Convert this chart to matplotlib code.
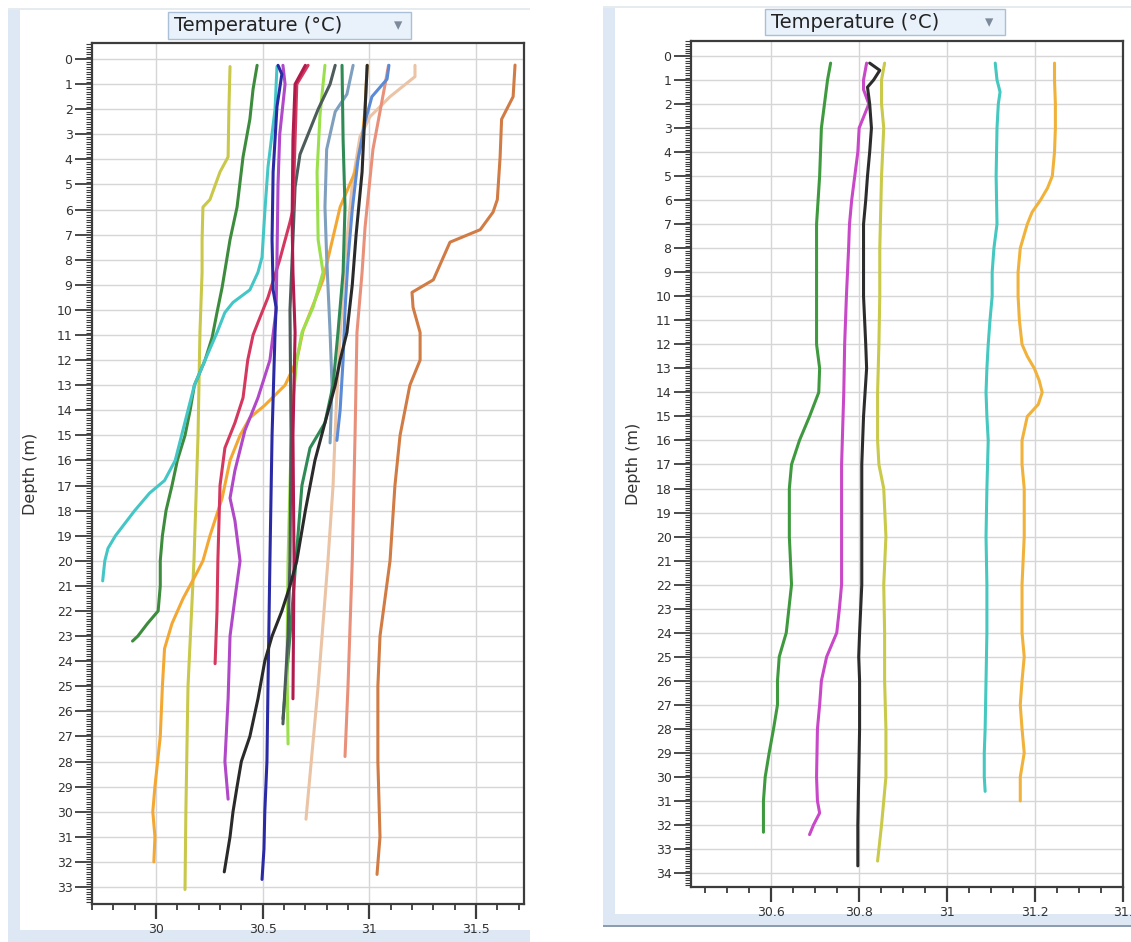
import matplotlib
matplotlib.use("Agg")
import matplotlib.pyplot as plt
from matplotlib.patches import Rectangle
from matplotlib.ticker import MultipleLocator, FixedLocator, FixedFormatter

W, H = 1131, 942

# ---------------- data: left panel (depth m, temperature degC) ----------------
L_yellow_d = [0.3, 1.9, 3.9, 4.5, 5.6, 5.9, 7.2, 8.5, 10.9, 15, 20, 25, 30, 33.1]
L_yellow_t = [30.347, 30.342, 30.338, 30.30, 30.253, 30.22, 30.216, 30.216, 30.206, 30.197, 30.178, 30.15, 30.14, 30.136]

L_dgreen_d = [0.25, 1.2, 2.4, 3.9, 5.9, 7.2, 9.1, 10.1, 11.1, 12, 13, 14, 15, 16, 17, 18, 19, 20, 21, 22, 22.5, 23, 23.2]
L_dgreen_t = [30.474, 30.455, 30.44, 30.408, 30.38, 30.347, 30.31, 30.286, 30.263, 30.23, 30.18, 30.16, 30.136, 30.10, 30.075, 30.047, 30.03, 30.02, 30.02, 30.01, 29.96, 29.915, 29.89]

L_cyan_d = [0.3, 2, 4.3, 6.1, 7.9, 8.5, 9.2, 9.7, 10.1, 10.9, 12, 13, 14, 15, 16, 16.8, 17.3, 18, 18.5, 19, 19.5, 20, 20.8]
L_cyan_t = [30.567, 30.558, 30.525, 30.51, 30.497, 30.478, 30.44, 30.361, 30.323, 30.286, 30.23, 30.18, 30.15, 30.12, 30.09, 30.04, 29.97, 29.90, 29.855, 29.81, 29.775, 29.76, 29.75]

L_navy_d = [0.25, 0.6, 1.9, 4.5, 7.2, 9.2, 9.9, 10.9, 15, 20, 25, 28, 30, 31.5, 32.7]
L_navy_t = [30.572, 30.59, 30.567, 30.549, 30.544, 30.549, 30.563, 30.558, 30.544, 30.534, 30.525, 30.52, 30.51, 30.506, 30.497]

L_purple_d = [0.25, 1, 3, 5, 8, 10, 12, 13.5, 14.8, 16.4, 17.5, 18.4, 20, 21.5, 23, 25.5, 28, 29.5]
L_purple_t = [30.595, 30.605, 30.58, 30.572, 30.567, 30.563, 30.534, 30.478, 30.417, 30.37, 30.347, 30.37, 30.394, 30.37, 30.347, 30.338, 30.323, 30.338]

L_red_d = [0.25, 1, 3.2, 6, 6.5, 8, 9.5, 10.5, 11, 12, 13.5, 14.5, 15.5, 17, 20, 22, 24.1]
L_red_t = [30.713, 30.66, 30.652, 30.642, 30.628, 30.58, 30.525, 30.478, 30.455, 30.43, 30.408, 30.37, 30.323, 30.30, 30.29, 30.286, 30.277]

L_crimson_d = [0.25, 1, 3.2, 6.5, 8.5, 10.9, 15, 20, 25.5]
L_crimson_t = [30.70, 30.652, 30.642, 30.638, 30.642, 30.652, 30.642, 30.647, 30.642]

L_lime_d = [0.25, 2.2, 4.5, 7.2, 8.5, 9.9, 10.9, 12, 14, 17, 20, 24, 27.3]
L_lime_t = [30.792, 30.769, 30.755, 30.76, 30.783, 30.736, 30.684, 30.66, 30.638, 30.628, 30.619, 30.614, 30.619]

L_slate_d = [0.25, 1, 2, 3.8, 5.1, 8, 10, 15, 20, 23, 26.5]
L_slate_t = [30.84, 30.816, 30.76, 30.675, 30.652, 30.638, 30.628, 30.633, 30.628, 30.619, 30.595]

L_teal_d = [0.25, 3.2, 5.9, 8.5, 10.9, 13, 14.5, 15.5, 17, 20, 23, 26.3]
L_teal_t = [30.872, 30.877, 30.886, 30.877, 30.853, 30.83, 30.792, 30.722, 30.684, 30.656, 30.628, 30.595]

L_steel_d = [0.25, 1.4, 2.1, 3.6, 5.9, 7.9, 10.9, 13, 15.3]
L_steel_t = [30.924, 30.895, 30.84, 30.80, 30.792, 30.80, 30.816, 30.825, 30.816]

L_blue_d = [0.25, 0.8, 1.5, 2.5, 4, 6, 8, 10, 12, 14, 15.2]
L_blue_t = [31.092, 31.083, 31.012, 30.98, 30.947, 30.92, 30.90, 30.886, 30.877, 30.863, 30.848]

L_black_d = [0.25, 2, 4.5, 7, 9, 10.9, 12, 13, 14.5, 16, 18, 20, 21, 22, 23, 24, 25.5, 27, 28, 29, 30, 31, 32.4]
L_black_t = [30.99, 30.98, 30.966, 30.938, 30.92, 30.895, 30.863, 30.84, 30.792, 30.745, 30.70, 30.66, 30.628, 30.59, 30.544, 30.51, 30.478, 30.44, 30.40, 30.38, 30.361, 30.347, 30.32]

L_gold_d = [0.25, 2, 3.2, 4.5, 5.9, 8.8, 10.8, 12, 13, 13.8, 14.3, 15, 16, 17.5, 19, 20, 20.5, 21.5, 22.5, 23.5, 25, 27, 29, 30, 31, 32]
L_gold_t = [30.99, 30.98, 30.966, 30.933, 30.863, 30.783, 30.69, 30.66, 30.605, 30.51, 30.44, 30.394, 30.347, 30.31, 30.253, 30.22, 30.19, 30.127, 30.075, 30.04, 30.03, 30.02, 29.995, 29.985, 29.995, 29.99]

L_peach_d = [0.25, 0.7, 1.5, 2.3, 3.1, 5, 8, 11, 14, 17, 20, 25, 30.3]
L_peach_t = [31.214, 31.214, 31.097, 31.003, 30.956, 30.92, 30.886, 30.863, 30.844, 30.83, 30.806, 30.76, 30.703]

L_salmon_d = [0.25, 1, 3.6, 6.7, 8.5, 10.9, 15, 20, 25, 27.8]
L_salmon_t = [31.09, 31.074, 31.017, 30.98, 30.966, 30.942, 30.933, 30.92, 30.90, 30.886]

L_brown_d = [0.24, 1.5, 2.4, 3.9, 5.6, 6.1, 6.8, 7.3, 8.8, 9.3, 9.9, 10.9, 12, 13, 15, 17, 20, 23, 25, 28, 31, 32.5]
L_brown_t = [31.683, 31.674, 31.62, 31.613, 31.60, 31.58, 31.52, 31.378, 31.30, 31.20, 31.205, 31.238, 31.238, 31.19, 31.144, 31.12, 31.097, 31.05, 31.04, 31.04, 31.05, 31.036]

left_series = [
    (L_yellow_d, L_yellow_t, "#c9c84a"),
    (L_dgreen_d, L_dgreen_t, "#3d8c3d"),
    (L_cyan_d, L_cyan_t, "#45c6c6"),
    (L_peach_d, L_peach_t, "#ebc3a5"),
    (L_salmon_d, L_salmon_t, "#e8907a"),
    (L_brown_d, L_brown_t, "#d17b45"),
    (L_gold_d, L_gold_t, "#f4a834"),
    (L_steel_d, L_steel_t, "#7e9fbd"),
    (L_blue_d, L_blue_t, "#5b8bd6"),
    (L_teal_d, L_teal_t, "#2f8a55"),
    (L_lime_d, L_lime_t, "#9be04c"),
    (L_slate_d, L_slate_t, "#4d5b5b"),
    (L_red_d, L_red_t, "#d4385f"),
    (L_crimson_d, L_crimson_t, "#b01a4c"),
    (L_purple_d, L_purple_t, "#b048c8"),
    (L_navy_d, L_navy_t, "#2a2aa5"),
    (L_black_d, L_black_t, "#2a2a2a"),
]

# ---------------- data: right panel ----------------
R_green_d = [0.3, 1, 2, 3, 5, 7, 10, 12, 13, 14, 15, 16, 17, 18, 20, 22, 24, 25, 26, 27, 28, 29, 30, 31, 32.3]
R_green_t = [30.735, 30.728, 30.721, 30.714, 30.71, 30.703, 30.703, 30.703, 30.71, 30.708, 30.687, 30.664, 30.646, 30.641, 30.641, 30.646, 30.634, 30.618, 30.614, 30.614, 30.605, 30.595, 30.586, 30.582, 30.582]

R_magenta_d = [0.3, 1, 1.4, 2, 3, 4, 5, 6, 7, 8, 10, 12, 14, 17, 20, 22, 23, 24, 25, 26, 27, 28, 30, 31, 31.5, 32, 32.4]
R_magenta_t = [30.817, 30.81, 30.81, 30.822, 30.80, 30.797, 30.79, 30.783, 30.778, 30.776, 30.771, 30.767, 30.765, 30.76, 30.76, 30.76, 30.755, 30.749, 30.726, 30.714, 30.71, 30.705, 30.703, 30.705, 30.71, 30.696, 30.687]

R_black_d = [0.3, 0.6, 1.0, 1.3, 2, 3, 4, 5, 6, 7, 8, 10, 12, 13, 15, 17, 20, 22, 24, 25, 26, 28, 30, 32, 33.7]
R_black_t = [30.824, 30.847, 30.833, 30.819, 30.824, 30.828, 30.824, 30.819, 30.815, 30.81, 30.81, 30.81, 30.815, 30.817, 30.81, 30.806, 30.806, 30.806, 30.801, 30.799, 30.801, 30.801, 30.799, 30.797, 30.797]

R_yellow_d = [0.3, 1, 2, 3, 5, 8, 10, 12, 14, 16, 17, 18, 20, 22, 24, 26, 28, 30, 31, 32, 33.5]
R_yellow_t = [30.858, 30.851, 30.851, 30.856, 30.851, 30.847, 30.847, 30.845, 30.842, 30.842, 30.845, 30.856, 30.861, 30.856, 30.858, 30.858, 30.861, 30.861, 30.856, 30.851, 30.842]

R_cyan_d = [0.3, 1, 1.5, 2, 3, 5, 7, 8, 9, 10, 11, 12, 13, 14, 15, 16, 18, 20, 22, 24, 26, 28, 29, 30, 30.6]
R_cyan_t = [31.11, 31.114, 31.121, 31.117, 31.114, 31.112, 31.114, 31.107, 31.103, 31.103, 31.098, 31.094, 31.091, 31.089, 31.091, 31.094, 31.091, 31.089, 31.091, 31.091, 31.089, 31.087, 31.085, 31.085, 31.087]

R_orange_d = [0.3, 1, 2, 3, 4, 5, 5.5, 6, 6.5, 7, 8, 9, 10, 11, 12, 12.5, 13, 13.5, 14, 14.5, 15, 16, 17, 18, 20, 22, 24, 25, 26, 27, 28, 29, 30, 31]
R_orange_t = [31.245, 31.245, 31.247, 31.247, 31.245, 31.24, 31.229, 31.213, 31.194, 31.183, 31.167, 31.162, 31.162, 31.165, 31.171, 31.183, 31.199, 31.21, 31.217, 31.208, 31.183, 31.171, 31.171, 31.176, 31.176, 31.171, 31.171, 31.176, 31.171, 31.167, 31.171, 31.176, 31.167, 31.167]

right_series = [
    (R_green_d, R_green_t, "#3f9a3f"),
    (R_magenta_d, R_magenta_t, "#c848c8"),
    (R_yellow_d, R_yellow_t, "#c9c94a"),
    (R_black_d, R_black_t, "#2c2c2c"),
    (R_cyan_d, R_cyan_t, "#45c8c0"),
    (R_orange_d, R_orange_t, "#f0b23a"),
]

left_xticks = [30, 30.5, 31, 31.5]
left_xlabels = ["30", "30.5", "31", "31.5"]
right_xticks = [30.6, 30.8, 31.0, 31.2, 31.4]
right_xlabels = ["30.6", "30.8", "31", "31.2", "31."]
left_depths = list(range(0, 34))
right_depths = list(range(0, 35))

TITLE = "Temperature (\u00b0C)"
YLABEL = "Depth (m)"

# ---------------- figure ----------------
fig = plt.figure(figsize=(W / 100, H / 100), dpi=100)
fig.patch.set_facecolor("white")


def px_rect(x0, y0, x1, y1, **kw):
    r = Rectangle((x0 / W, 1 - y1 / H), (x1 - x0) / W, (y1 - y0) / H,
                  transform=fig.transFigure, **kw)
    fig.add_artist(r)
    return r


# panel frames (light blue window chrome)
frame_c = "#dde8f4"
px_rect(8, 10, 20, 942, facecolor=frame_c, edgecolor="none", zorder=0)
px_rect(8, 930, 530, 942, facecolor=frame_c, edgecolor="none", zorder=0)
px_rect(8, 8, 530, 9.5, facecolor="#e6ebf0", edgecolor="none", zorder=0)
px_rect(603, 8, 615, 926, facecolor=frame_c, edgecolor="none", zorder=0)
px_rect(603, 914, 1131, 925, facecolor=frame_c, edgecolor="none", zorder=0)
px_rect(603, 925, 1131, 927, facecolor="#8e9cb0", edgecolor="none", zorder=0)
px_rect(603, 6, 1131, 7.5, facecolor="#e6ebf0", edgecolor="none", zorder=0)


def header(x0, y0, x1, y1, tx, ax_):
    px_rect(x0, y0, x1, y1, facecolor="#e9f1fb", edgecolor="#a9c0d8", lw=1.0, zorder=1)
    fig.text(tx / W, 1 - (y0 + y1) / 2 / H, TITLE, ha="left", va="center",
             fontsize=14, color="#222222", zorder=2)
    fig.text(ax_ / W, 1 - (y0 + y1) / 2 / H, "\u25be", ha="center", va="center",
             fontsize=12, color="#7c8a9a", zorder=2)


header(168, 12, 411, 39, 174, 398)
header(765, 9, 1005, 35, 771, 989)


def style_axes(ax, xlim, ylim, xticks, xlabels, xminor, depths, ylabel_x):
    ax.set_xlim(*xlim)
    ax.set_ylim(*ylim)
    ax.xaxis.set_major_locator(FixedLocator(xticks))
    ax.xaxis.set_major_formatter(FixedFormatter(xlabels))
    ax.xaxis.set_minor_locator(MultipleLocator(xminor))
    ax.yaxis.set_major_locator(FixedLocator(depths))
    ax.yaxis.set_major_formatter(FixedFormatter([str(d) for d in depths]))
    ax.yaxis.set_minor_locator(MultipleLocator(0.1))
    ax.grid(True, which="major", color="#d6d6d6", lw=1.0, zorder=0)
    ax.set_axisbelow(True)
    for s in ax.spines.values():
        s.set_color("#3c3c3c")
        s.set_linewidth(1.6)
    ax.tick_params(axis="y", which="major", direction="out", length=12, width=1.3,
                   color="#3c3c3c", labelsize=9, labelcolor="#333333", pad=2)
    ax.tick_params(axis="y", which="minor", direction="out", length=4, width=0.8,
                   color="#3c3c3c")
    ax.tick_params(axis="x", which="major", direction="out", length=11, width=1.6,
                   color="#3c3c3c", labelsize=9, labelcolor="#333333", pad=3)
    ax.tick_params(axis="x", which="minor", direction="out", length=4.5, width=1.3,
                   color="#3c3c3c")
    ax.set_ylabel(YLABEL, fontsize=11.5, color="#333333")
    ax.yaxis.set_label_coords(ylabel_x, 0.5)


axL = fig.add_axes([92 / W, 1 - 904 / H, 432 / W, 861 / H])
for d, t, c in left_series:
    axL.plot(t, d, color=c, lw=2.2, solid_capstyle="round", solid_joinstyle="round", zorder=3)
style_axes(axL, (29.70, 31.725), (33.68, -0.64), left_xticks, left_xlabels, 0.1,
           left_depths, -0.125)

axR = fig.add_axes([691 / W, 1 - 887 / H, 432 / W, 846 / H])
for d, t, c in right_series:
    axR.plot(t, d, color=c, lw=2.2, solid_capstyle="round", solid_joinstyle="round", zorder=3)
style_axes(axR, (30.417, 31.401), (34.58, -0.62), right_xticks, right_xlabels, 0.05,
           right_depths, -0.115)

fig.savefig("out.png", dpi=100, facecolor="white")
